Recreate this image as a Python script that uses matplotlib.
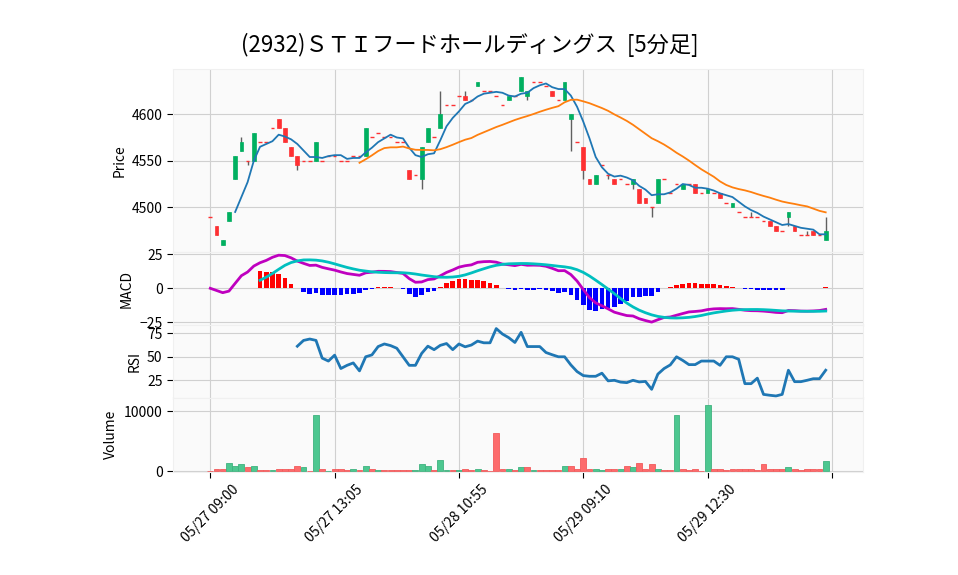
import matplotlib.pyplot as plt
import numpy as np
import pandas as pd

plt.rcParams['font.family'] = ['Noto Sans CJK JP', 'DejaVu Sans']

title = '(2932)ＳＴＩフードホールディングス  [5分足]'

# 5分足 (index順, 取引のあった足のみ)
opens = [4490, 4480, 4460, 4485, 4530, 4560, 4550, 4550, 4570, 4570,
         4585, 4595, 4585, 4565, 4555, 4550, 4550, 4550, 4550, 4555,
         4555, 4550, 4550, 4555, 4555, 4555, 4575, 4580, 4575, 4575,
         4570, 4570, 4540, 4535, 4530, 4570, 4575, 4585, 4610, 4610,
         4620, 4620, 4615, 4630, 4625, 4625, 4620, 4610, 4615, 4620,
         4625, 4620, 4635, 4635, 4630, 4625, 4615, 4615, 4595, 4570,
         4565, 4530, 4525, 4545, 4535, 4530, 4530, 4525, 4525, 4520,
         4510, 4500, 4505, 4530, 4515, 4525, 4520, 4525, 4525, 4515,
         4515, 4515, 4515, 4505, 4500, 4495, 4490, 4490, 4490, 4485,
         4485, 4480, 4475, 4490, 4480, 4470, 4470, 4475, 4470, 4465]
closes = [4490, 4470, 4465, 4495, 4555, 4570, 4550, 4580, 4570, 4570,
          4585, 4585, 4570, 4555, 4545, 4550, 4550, 4570, 4550, 4555,
          4555, 4550, 4550, 4555, 4555, 4585, 4575, 4580, 4575, 4575,
          4570, 4570, 4530, 4535, 4565, 4585, 4575, 4600, 4610, 4610,
          4620, 4615, 4615, 4635, 4625, 4625, 4620, 4610, 4620, 4620,
          4640, 4625, 4635, 4635, 4630, 4620, 4615, 4635, 4600, 4570,
          4540, 4525, 4535, 4545, 4535, 4525, 4530, 4525, 4530, 4505,
          4505, 4500, 4530, 4530, 4515, 4525, 4525, 4525, 4515, 4515,
          4520, 4515, 4510, 4505, 4505, 4495, 4490, 4490, 4490, 4485,
          4480, 4475, 4475, 4495, 4475, 4470, 4470, 4470, 4470, 4475]
highs = [4490, 4480, 4465, 4495, 4555, 4575, 4550, 4580, 4570, 4570,
         4585, 4595, 4585, 4565, 4555, 4550, 4550, 4570, 4550, 4555,
         4555, 4550, 4550, 4555, 4555, 4585, 4575, 4580, 4575, 4575,
         4570, 4570, 4540, 4535, 4565, 4585, 4575, 4625, 4610, 4610,
         4620, 4625, 4615, 4635, 4625, 4625, 4620, 4610, 4620, 4620,
         4640, 4625, 4635, 4635, 4630, 4625, 4615, 4635, 4600, 4570,
         4565, 4530, 4535, 4545, 4535, 4530, 4530, 4525, 4530, 4520,
         4510, 4500, 4530, 4530, 4515, 4525, 4525, 4525, 4525, 4515,
         4520, 4515, 4515, 4505, 4505, 4495, 4490, 4495, 4490, 4485,
         4485, 4480, 4475, 4495, 4480, 4470, 4475, 4475, 4470, 4490]
lows = [4490, 4470, 4460, 4485, 4530, 4560, 4545, 4550, 4570, 4570,
        4585, 4585, 4570, 4555, 4540, 4550, 4550, 4550, 4550, 4555,
        4555, 4550, 4550, 4555, 4555, 4555, 4575, 4580, 4575, 4575,
        4570, 4570, 4530, 4535, 4520, 4570, 4575, 4585, 4610, 4610,
        4620, 4615, 4615, 4630, 4625, 4625, 4620, 4610, 4615, 4620,
        4625, 4615, 4635, 4635, 4630, 4620, 4615, 4615, 4560, 4570,
        4530, 4525, 4525, 4545, 4530, 4525, 4530, 4525, 4520, 4505,
        4505, 4490, 4505, 4530, 4515, 4525, 4520, 4525, 4515, 4515,
        4515, 4515, 4510, 4505, 4500, 4495, 4490, 4490, 4490, 4485,
        4480, 4475, 4475, 4480, 4475, 4470, 4470, 4470, 4470, 4465]
volumes = [0, 300, 400, 1300, 900, 1100, 600, 900, 100, 100,
           100, 400, 300, 300, 800, 600, 0, 9300, 300, 0,
           300, 300, 100, 300, 100, 800, 300, 100, 100, 100,
           100, 100, 200, 100, 1100, 900, 100, 1800, 100, 100,
           100, 300, 100, 400, 100, 0, 6400, 300, 300, 100,
           600, 600, 100, 100, 100, 200, 100, 800, 900, 300,
           2100, 300, 300, 100, 300, 300, 300, 800, 600, 1400,
           300, 1100, 300, 100, 100, 9300, 400, 100, 300, 0,
           11000, 300, 300, 100, 400, 300, 300, 300, 100, 1100,
           300, 300, 300, 600, 400, 100, 400, 400, 300, 1600]

tick_pos = [0, 20, 40, 60, 80, 100]
tick_labels = ['05/27 09:00', '05/27 13:05', '05/28 10:55', '05/29 09:10', '05/29 12:30', '']

df = pd.DataFrame({'Open': opens, 'High': highs, 'Low': lows, 'Close': closes, 'Volume': volumes})
x = np.arange(len(df))

# 指標
ma5 = df['Close'].rolling(5).mean()
ma25 = df['Close'].rolling(25).mean()
ema12 = df['Close'].ewm(span=12, adjust=False).mean()
ema26 = df['Close'].ewm(span=26, adjust=False).mean()
macd = ema12 - ema26
signal = macd.rolling(9).mean()
hist = macd - signal
diff = df['Close'].diff()
gain = diff.clip(lower=0).rolling(14).mean()
loss = (-diff.clip(upper=0)).rolling(14).mean()
rsi = 100 * gain / (gain + loss)

up_c, dn_c = '#00b060', '#fe3032'
vup_c, vdn_c = '#4dc790', '#fd6b6c'

fig = plt.figure(figsize=(9.58, 5.75), dpi=100)
W, H = 958, 575
def box(top, bottom):
    return [173 / W, 1 - bottom / H, 690 / W, (bottom - top) / H]

ax1 = fig.add_axes(box(69.5, 252))
ax2 = fig.add_axes(box(252, 325), sharex=ax1)
ax3 = fig.add_axes(box(325, 397.5), sharex=ax1)
ax4 = fig.add_axes(box(397.5, 472), sharex=ax1)

for ax in (ax1, ax2, ax3, ax4):
    ax.set_facecolor('#fafafa')
    ax.grid(True, color='#d0d0d0', linestyle='-', linewidth=0.8)
    ax.set_axisbelow(True)
    for s in ax.spines.values():
        s.set_color('#f0f0f0')
    ax.tick_params(axis='y', labelsize=10, length=4, color='black')
    ax.tick_params(axis='x', bottom=False, labelbottom=False)

# ローソク足
o = df['Open'].values
c = df['Close'].values
up = c > o
dn = c < o
doji = c == o
ax1.vlines(x, df['Low'], df['High'], color='#606060', linewidth=1, zorder=2)
ax1.bar(x[up], (c - o)[up], bottom=o[up], width=0.6, color=up_c, edgecolor=up_c, linewidth=0.5, zorder=3)
ax1.bar(x[dn], (o - c)[dn], bottom=c[dn], width=0.6, color=dn_c, edgecolor=dn_c, linewidth=0.5, zorder=3)
ax1.hlines(c[doji], x[doji] - 0.3, x[doji] + 0.3, color=dn_c, linewidth=1, zorder=3)
ax1.plot(x, ma5, color='#1f77b4', linewidth=1.3, zorder=4)
ax1.plot(x, ma25, color='#ff7f0e', linewidth=1.3, zorder=4)
ax1.set_ylim(4452, 4648)
ax1.set_yticks([4500, 4550, 4600])
ax1.set_ylabel('Price', fontsize=10)

# MACD
hcol = ['r' if v >= 0 else 'b' for v in hist.fillna(0)]
ax2.bar(x, hist, width=0.75, color=hcol, zorder=2)
ax2.plot(x, macd, color='m', linewidth=2, zorder=3)
ax2.plot(x, signal, color='c', linewidth=2, zorder=3)
ax2.set_ylim(-27, 26.7)
ax2.set_yticks([-25, 0, 25])
ax2.set_ylabel('MACD', fontsize=10)

# RSI
ax3.plot(x, rsi, color='#1f77b4', linewidth=2)
ax3.set_ylim(6.7, 83.8)
ax3.set_yticks([25, 50, 75])
ax3.set_ylabel('RSI', fontsize=10)

# 出来高
prev = np.r_[c[0], c[:-1]]
vcol = [vup_c if cc > pp else vdn_c for cc, pp in zip(c, prev)]
vedge = ['#3fb27f' if cc > pp else '#f25a5b' for cc, pp in zip(c, prev)]
ax4.bar(x, df['Volume'], width=0.95, color=vcol, edgecolor=vedge, linewidth=0.6, zorder=2)
ax4.set_ylim(-150, 12250)
ax4.set_yticks([0, 10000])
ax4.set_ylabel('Volume', fontsize=10)
ax4.tick_params(axis='x', bottom=True, labelbottom=True, length=4, color='black', labelsize=10)

ax4.set_xlim(-6, 105)
ax4.set_xticks(tick_pos)
ax4.set_xticklabels(tick_labels, rotation=45)

fig.text(0.49, 0.922, title, ha='center', va='center', fontsize=16)

fig.savefig('out.png', dpi=100)
